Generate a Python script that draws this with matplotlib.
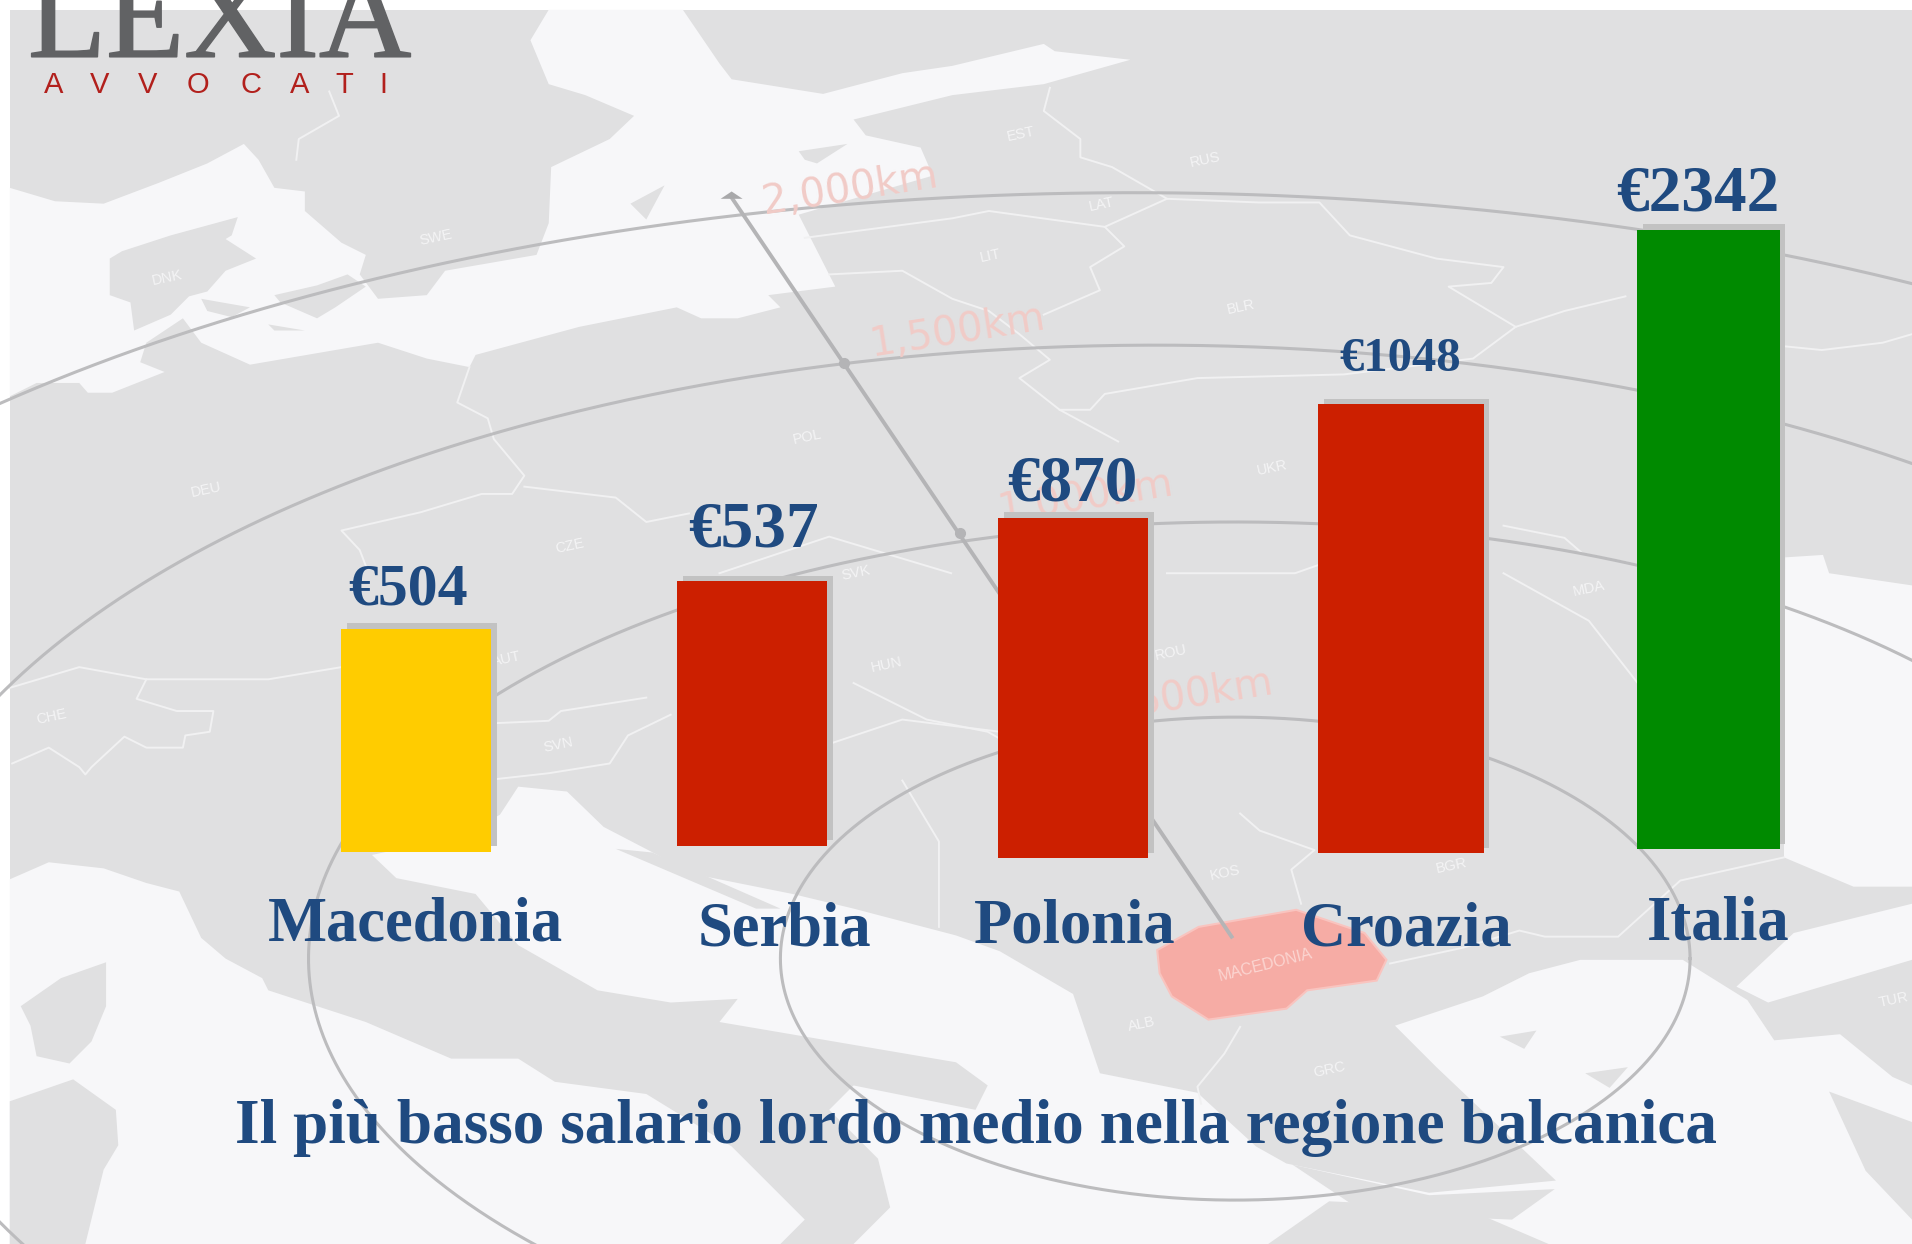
import matplotlib
matplotlib.use('Agg')
import matplotlib.pyplot as plt
import matplotlib.patheffects as pe
from matplotlib.patches import Polygon, Rectangle
import numpy as np

# data
categories = ['Macedonia', 'Serbia', 'Polonia', 'Croazia', 'Italia']
salaries = ['€504', '€537', '€870', '€1048', '€2342']
# the drawn bars are not to scale with the salaries, so heights are kept apart
drawn_heights = [183, 217, 279, 368, 508]
title = 'Il più basso salario lordo medio nella regione balcanica'
map_km_labels = ['2,000km', '1,500km', '1,000km', '500km']
country_codes = ['SWE', 'DNK', 'LIT', 'LAT', 'EST', 'RUS', 'BLR', 'POL', 'DEU', 'CZE', 'SVK',
                 'HUN', 'ROU', 'UKR', 'MDA', 'AUT', 'SVN', 'CHE', 'KOS', 'ALB', 'GRC', 'BGR', 'TUR']

# layout, in the 1568x1020 coordinates of the picture
bar_centers = [341.5, 617, 880, 1149, 1401]
bar_widths = [123, 123, 123, 136, 117]
bar_bottoms = [698.5, 693.5, 703.5, 699.5, 696.5]
bar_colors = ['#ffcc00', '#cc1f00', '#cc1f00', '#cc1f00', '#008a00']
value_x = [335, 617.5, 879.5, 1148, 1392]
value_y = [496, 448, 410, 304, 173]
value_size = [43, 47, 47, 35, 47]
name_x = [341, 643, 881, 1153, 1409]
name_y = [771, 775, 773, 775, 770]

SEA = '#f7f7f9'
LAND = '#e0e0e1'
BLUE = '#1f4a80'
SERIF = 'Liberation Serif'

plt.rcParams['font.family'] = 'Liberation Sans'
fig = plt.figure(figsize=(19.12, 12.44), dpi=100, facecolor='white')
ax = fig.add_axes([0, 0, 1, 1])
ax.set_xlim(0, 1568)
ax.set_ylim(1020, 0)
ax.axis('off')

# background map
ax.add_patch(Rectangle((8, 8), 1560, 1012, fc=LAND, ec='none', zorder=0))

seas = [
    # north sea + baltic
    [(8, 154), (45, 165), (85, 167), (130, 150), (170, 134), (200, 118), (212, 131), (225, 154), (250, 157),
     (250, 173), (280, 199), (300, 209), (295, 225), (310, 245), (350, 242), (365, 222), (440, 209), (450, 183),
     (452, 137), (500, 114), (520, 95), (480, 78), (450, 69), (435, 33), (450, 8), (560, 8), (590, 52), (600, 65),
     (675, 77), (740, 60), (781, 54), (831, 42), (856, 36), (865, 42), (927, 49), (856, 69), (781, 78), (700, 98),
     (710, 111), (755, 121), (765, 144), (655, 176), (685, 235), (630, 242), (640, 252), (605, 261), (575, 261),
     (555, 252), (475, 268), (390, 291), (385, 301), (350, 294), (310, 281), (205, 299), (165, 281), (150, 261),
     (120, 281), (115, 297), (135, 305), (92, 322), (72, 322), (65, 314), (30, 314), (8, 325)],
    # tyrrhenian
    [(8, 721), (40, 707), (85, 712), (120, 724), (147, 731), (165, 769), (185, 786), (215, 802), (220, 812),
     (300, 838), (370, 868), (425, 868), (455, 887), (530, 897), (600, 940), (660, 1000), (640, 1020), (8, 1020)],
    # adriatic, ionian, aegean
    [(305, 701), (325, 720), (390, 733), (425, 775), (490, 812), (550, 822), (605, 819), (590, 838), (784, 871),
     (810, 890), (800, 910), (700, 890), (680, 910), (720, 950), (730, 990), (700, 1020), (1568, 1020), (1568, 890),
     (1552, 883), (1509, 848), (1455, 853), (1433, 820), (1380, 787), (1296, 787), (1254, 798), (1216, 817),
     (1144, 841), (1178, 875), (1276, 968), (1172, 978), (1055, 954), (1030, 940), (982, 896), (902, 880),
     (880, 815), (820, 780), (784, 767), (700, 745), (650, 733), (570, 717), (495, 678), (465, 649), (425, 645),
     (410, 668), (380, 685)],
    # black sea, marmara band
    [(1464, 457), (1495, 455), (1500, 470), (1568, 480), (1568, 727), (1520, 727), (1463, 703)],
    [(1471, 765), (1568, 741), (1568, 787), (1450, 822), (1424, 809)],
]
islands = [
    [(90, 212), (100, 206), (140, 193), (195, 178), (190, 193), (185, 196), (210, 212), (185, 222), (170, 239),
     (155, 243), (140, 258), (110, 271), (107, 248), (90, 242)],
    [(225, 242), (260, 234), (285, 225), (300, 235), (275, 252), (260, 261), (230, 248)],
    [(165, 245), (205, 252), (190, 260), (170, 255)],
    [(220, 266), (250, 271), (225, 271)],
    [(517, 167), (545, 152), (530, 180)],
    [(655, 124), (695, 118), (670, 134), (660, 131)],
    [(87, 789), (87, 825), (75, 854), (57, 872), (30, 866), (25, 841), (17, 825), (50, 802)],
    [(60, 885), (95, 910), (97, 939), (85, 959), (70, 1020), (8, 1020), (8, 903)],
    [(505, 696), (535, 699), (640, 745), (620, 745)],
    [(1040, 1020), (1090, 985), (1200, 990), (1270, 1020)],
    [(1060, 955), (1172, 980), (1275, 975), (1240, 1000), (1120, 995)],
    [(1500, 895), (1568, 920), (1568, 1000), (1530, 960)],
    [(1230, 850), (1260, 845), (1250, 860)],
    [(1300, 880), (1335, 875), (1320, 892)],
]
for pts in seas:
    ax.add_patch(Polygon(pts, closed=True, fc=SEA, ec='none', zorder=1))
for pts in islands:
    ax.add_patch(Polygon(pts, closed=True, fc=LAND, ec='none', zorder=2))

borders = [
    [(270, 75), (278, 95), (245, 114), (243, 131)],
    [(385, 301), (375, 330), (400, 343), (405, 360), (430, 390), (420, 405), (395, 405), (345, 420), (280, 435), (295, 451), (300, 464)],
    [(430, 399), (505, 408), (530, 428), (565, 421)],
    [(8, 564), (65, 547), (120, 557), (175, 557), (220, 557), (280, 547)],
    [(120, 557), (112, 573), (145, 583), (175, 583), (172, 600), (152, 603), (150, 613), (120, 613), (102, 604),
     (75, 629), (70, 635), (65, 629), (40, 613), (10, 626)],
    [(405, 593), (450, 591), (460, 583), (530, 572)],
    [(405, 639), (450, 634), (500, 626), (515, 603), (550, 586)],
    [(861, 72), (856, 91), (886, 114), (886, 129), (912, 137), (952, 160), (957, 163), (906, 186), (922, 202),
     (894, 219), (902, 238), (856, 258)],
    [(660, 195), (781, 179), (811, 173), (906, 186)],
    [(680, 225), (740, 222), (781, 245), (811, 255), (836, 274), (861, 295), (836, 310), (869, 336), (917, 362)],
    [(869, 336), (894, 336), (906, 323), (982, 310), (1102, 307), (1208, 294), (1243, 268), (1283, 255), (1333, 243)],
    [(957, 163), (1032, 166), (1082, 166), (1107, 193), (1178, 212), (1233, 219), (1223, 232), (1188, 235), (1243, 268)],
    [(1464, 284), (1494, 287), (1544, 281), (1568, 274)],
    [(957, 470), (1062, 470), (1082, 463)],
    [(1233, 431), (1283, 441), (1298, 454), (1343, 463)],
    [(1233, 470), (1303, 509), (1343, 560)],
    [(1017, 667), (1033, 681), (1078, 697), (1059, 713), (1067, 741)],
    [(1140, 790), (1200, 777), (1246, 763), (1267, 768), (1327, 768), (1378, 722), (1463, 703)],
    [(1017, 842), (1004, 864), (982, 891), (985, 905)],
    [(590, 470), (680, 440), (780, 470)],
    [(700, 560), (760, 590), (810, 600), (880, 640)],
    [(680, 610), (740, 590), (820, 600)],
    [(740, 640), (770, 690), (770, 760)],
]
for b in borders:
    bx, by = zip(*b)
    ax.plot(bx, by, color='#f1f1f2', lw=1.4, zorder=3, solid_joinstyle='round')

# macedonia, on the map
mkd = [(949, 779), (983, 760), (1063, 746), (1119, 765), (1137, 787), (1129, 804), (1072, 812), (1055, 827),
       (991, 836), (961, 817), (951, 798)]
ax.add_patch(Polygon(mkd, closed=True, fc='#f6aca5', ec='#f9c4bf', lw=1.5, zorder=4))
ax.text(1038, 791, 'MACEDONIA', color='#fbd5d1', fontsize=11.5, rotation=14, ha='center', va='center', zorder=5)

# distance rings
rings = [(1013, 786, 373, 198), (1013, 786, 760, 358), (948, 786, 1050, 503), (930, 786, 1350, 628)]
theta = np.linspace(0, 2 * np.pi, 1200)
for cx, cy, a, b in rings:
    ax.plot(cx + a * np.cos(theta), cy + b * np.sin(theta), color='#bcbcbe', lw=2.2, zorder=5)

# radial line with its arrow tip
ax.plot([600, 1010], [162, 768], color='#b4b4b6', lw=2.8, zorder=6)
ax.add_patch(Polygon([(600, 157), (591, 163), (609, 163)], closed=True, fc='#a8a8aa', ec='none', zorder=6))
ax.plot([692, 787], [298, 437], ls='none', marker='o', ms=7, color='#b4b4b6', zorder=6)

km_x = [697, 785, 890, 988]
km_y = [155, 272, 408, 568]
for lab, x, y in zip(map_km_labels, km_x, km_y):
    ax.text(x, y, lab, family='DejaVu Sans', color='#f1cbc7', fontsize=29, rotation=9, ha='center', va='center', zorder=5)

code_x = [357, 137, 812, 903, 837, 988, 1018, 662, 169, 467, 702, 727, 960, 1043, 1303, 415, 458, 42, 1005, 936, 1090, 1190, 1553]
code_y = [195, 228, 210, 168, 110, 131, 252, 358, 402, 448, 470, 545, 535, 384, 483, 540, 611, 588, 716, 840, 877, 710, 820]
for lab, x, y in zip(country_codes, code_x, code_y):
    ax.text(x, y, lab, color='#f4f4f5', fontsize=10.5, rotation=12, ha='center', va='center', zorder=5)

# bars, each with its offset grey shadow
heights = np.array(drawn_heights)
centers = np.array(bar_centers)
bottoms = np.array(bar_bottoms)
ax.bar(centers + 4.5, -heights, width=bar_widths, bottom=bottoms - 4.5, color='#c2c2c2', zorder=7)
ax.bar(centers, -heights, width=bar_widths, bottom=bottoms, color=bar_colors, zorder=8)

# texts
for lab, x, y, s in zip(salaries, value_x, value_y, value_size):
    ax.text(x, y, lab, family=SERIF, weight='bold', color=BLUE, fontsize=s, ha='center', va='baseline', zorder=9)
for lab, x, y in zip(categories, name_x, name_y):
    ax.text(x, y, lab, family=SERIF, weight='bold', color=BLUE, fontsize=45, ha='center', va='baseline', zorder=9)
ax.text(800, 937, title, family=SERIF, weight='bold', color=BLUE, fontsize=45.5, ha='center', va='baseline', zorder=9)

# logo
ax.text(180, 46.5, 'LEXIA', family=SERIF, color='#616264', fontsize=92, ha='center', va='baseline', zorder=9,
        path_effects=[pe.withStroke(linewidth=1.2, foreground='#616264')])
logo_x = [44, 82, 121, 162, 206, 246, 282, 314]
for ch, x in zip('AVVOCATI', logo_x):
    ax.text(x, 76, ch, color='#b2201c', fontsize=21, ha='center', va='baseline', zorder=9)

fig.savefig('out.png', dpi=100)
